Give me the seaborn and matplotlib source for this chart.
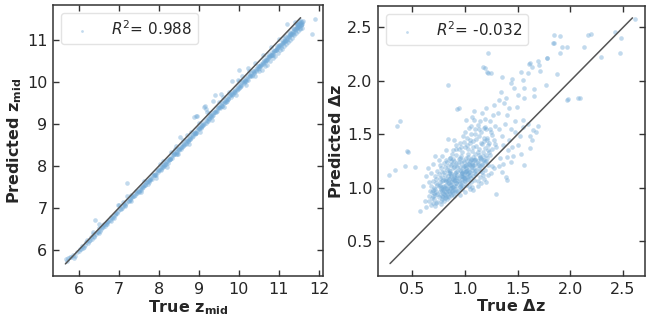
import matplotlib
matplotlib.use("Agg")
import matplotlib.pyplot as plt
import seaborn as sns
import pandas as pd

# ---------------- data: left panel (z_mid) ----------------
zmid_true = [
    5.68, 5.74, 5.80, 5.86, 5.92, 5.97, 6.03, 6.08, 6.13, 6.18,
    6.22, 6.27, 6.31, 6.35, 6.39, 6.42, 6.46, 6.50, 6.54, 6.58,
    6.62, 6.66, 6.70, 6.74, 6.78, 6.82, 6.86, 6.90, 6.94, 6.98,
    7.02, 7.06, 7.10, 7.13, 7.17, 7.20, 7.24, 7.28, 7.32, 7.36,
    7.40, 7.44, 7.48, 7.52, 7.56, 7.60, 7.63, 7.67, 7.71, 7.75,
    7.79, 7.83, 7.87, 7.91, 7.95, 7.99, 8.03, 8.07, 8.11, 8.15,
    8.19, 8.23, 8.27, 8.31, 8.35, 8.39, 8.43, 8.47, 8.51, 8.55,
    8.59, 8.63, 8.67, 8.71, 8.75, 8.79, 8.83, 8.87, 8.91, 8.95,
    8.99, 9.03, 9.07, 9.11, 9.15, 9.19, 9.23, 9.27, 9.31, 9.35,
    9.39, 9.43, 9.47, 9.51, 9.55, 9.59, 9.63, 9.67, 9.71, 9.75,
    9.79, 9.83, 9.87, 9.91, 9.95, 9.99, 10.03, 10.07, 10.11, 10.15,
    10.19, 10.23, 10.27, 10.31, 10.35, 10.39, 10.43, 10.47, 10.51, 10.55,
    10.59, 10.63, 10.67, 10.71, 10.75, 10.79, 10.83, 10.87, 10.91, 10.95,
    10.99, 11.03, 11.07, 11.11, 11.15, 11.19, 11.23, 11.27, 11.31, 11.35,
    11.38, 11.41, 11.44, 11.47, 11.50, 11.53, 11.56, 11.60, 11.82, 11.91,
    5.71, 5.78, 5.88, 6.00, 6.11, 6.24, 6.33, 6.44, 6.56, 6.68,
    6.80, 6.92, 7.04, 7.15, 7.26, 7.34, 7.42, 7.50, 7.58, 7.65,
    7.73, 7.81, 7.89, 7.97, 8.05, 8.13, 8.21, 8.29, 8.37, 8.45,
    8.53, 8.61, 8.69, 8.77, 8.85, 8.93, 9.01, 9.09, 9.17, 9.25,
    9.33, 9.41, 9.49, 9.57, 9.65, 9.73, 9.81, 9.89, 9.97, 10.05,
    10.13, 10.21, 10.29, 10.37, 10.45, 10.53, 10.61, 10.69, 10.77, 10.85,
    10.93, 11.01, 11.09, 11.17, 11.25, 11.33, 11.41, 11.45, 11.49, 11.55,
    7.30, 7.62, 8.02, 8.44, 8.88, 8.96, 9.20, 9.60, 10.00, 10.40,
    10.80, 11.00, 11.40, 11.52, 11.57, 11.58, 11.50, 11.46, 11.54, 11.43,
    9.52, 9.68, 9.84, 10.00, 10.16, 10.32, 10.48, 10.64, 10.80, 10.96,
    11.12, 11.28, 8.10, 8.26, 8.42, 8.58, 8.74, 8.90, 9.06, 9.22,
    7.50, 7.55, 7.61, 7.66, 7.72, 7.77, 7.84, 7.90, 7.94, 8.00,
    8.06, 8.12, 8.17, 8.22, 8.28, 8.33, 8.38, 8.46, 8.50, 8.56,
    8.62, 8.68, 8.72, 8.78, 8.84, 8.90, 8.94, 9.00, 9.05, 9.10,
    9.14, 9.21, 9.26, 9.30, 9.36, 9.42, 9.46, 9.53, 9.58, 9.62,
    9.70, 9.74, 9.80, 9.86, 9.90, 9.96, 10.02, 10.06, 10.12, 10.18,
    10.22, 10.28, 10.34, 10.38, 10.44, 10.50, 10.56, 10.60, 10.66, 10.72,
    10.76, 10.82, 10.88, 10.92, 10.98, 11.04, 11.10, 11.14, 11.20, 11.26,
    11.30, 11.36, 11.42, 11.48, 11.52, 11.56, 11.34, 11.44, 11.24, 11.12,
    9.41, 9.12, 8.70, 8.30, 9.84, 10.22, 10.60, 10.08, 9.98, 8.52,
    6.05, 6.16, 6.29, 6.38, 6.48, 6.60, 6.72, 6.84, 6.96, 7.08,
    7.19, 7.29, 7.38, 7.46, 6.36, 6.52, 6.98, 7.12, 7.22, 6.64,
    10.50, 10.58, 10.65, 10.70, 10.78, 10.84, 10.90, 10.97, 11.02, 11.08,
    11.13, 11.18, 11.22, 11.28, 11.32, 11.38, 11.43, 11.47, 11.52, 11.58,
    10.52, 10.68, 10.86, 11.05, 11.21, 11.36, 10.74, 10.94, 11.16, 11.46,
    8.10, 8.40, 8.60, 8.80, 9.00, 9.25, 9.50, 9.75, 10.00, 10.25,
    8.20, 8.48, 8.76, 9.04, 9.32, 9.62, 9.92, 10.18, 10.40, 7.92,
    7.30, 7.56, 7.76, 6.88, 6.70, 6.50, 9.18, 9.36, 9.55, 8.94,
]
zmid_pred = [
    5.78, 5.80, 5.84, 5.88, 5.86, 5.95, 6.02, 6.10, 6.08, 6.20,
    6.25, 6.22, 6.30, 6.38, 6.34, 6.72, 6.42, 6.52, 6.46, 6.55,
    6.60, 6.58, 6.68, 6.70, 6.72, 6.80, 6.78, 6.85, 6.88, 6.92,
    7.08, 6.98, 7.05, 7.10, 7.08, 7.60, 7.18, 7.22, 7.26, 7.30,
    7.32, 7.40, 7.40, 7.45, 7.50, 7.52, 7.55, 7.62, 7.62, 7.68,
    7.70, 7.78, 7.80, 7.82, 7.88, 7.90, 7.96, 7.98, 8.04, 8.06,
    8.10, 8.16, 8.18, 8.22, 8.26, 8.32, 8.34, 8.40, 8.42, 8.46,
    8.52, 8.54, 8.60, 8.62, 8.66, 8.70, 8.74, 8.80, 8.82, 8.86,
    8.90, 8.94, 8.98, 9.02, 9.44, 9.10, 9.14, 9.20, 9.22, 9.26,
    9.30, 9.34, 9.40, 9.42, 9.46, 9.50, 9.56, 9.58, 9.62, 9.68,
    9.70, 9.74, 9.80, 9.82, 9.86, 9.92, 9.94, 10.00, 10.02, 10.06,
    10.10, 10.14, 10.16, 10.22, 10.26, 10.28, 10.32, 10.38, 10.40, 10.44,
    10.48, 10.52, 10.54, 10.60, 10.62, 10.66, 10.72, 10.74, 10.78, 10.82,
    10.86, 10.90, 10.94, 10.98, 11.02, 11.40, 11.10, 11.14, 11.18, 11.22,
    11.26, 11.28, 11.32, 11.36, 11.40, 11.42, 11.44, 11.46, 11.16, 11.50,
    5.74, 5.84, 5.82, 5.98, 6.04, 6.18, 6.26, 6.38, 6.50, 6.62,
    6.70, 6.84, 6.98, 7.04, 7.16, 7.26, 7.36, 7.38, 7.48, 7.56,
    7.64, 7.72, 7.78, 7.86, 7.94, 8.02, 8.12, 8.18, 8.28, 8.34,
    8.44, 8.48, 8.56, 8.66, 8.72, 8.80, 8.92, 8.96, 9.04, 9.16,
    9.20, 9.28, 9.38, 9.44, 9.52, 9.60, 9.72, 9.76, 9.84, 9.92,
    10.00, 10.08, 10.18, 10.22, 10.34, 10.38, 10.46, 10.54, 10.62, 10.70,
    10.78, 10.88, 10.94, 11.00, 11.08, 11.16, 11.22, 11.30, 11.34, 11.38,
    7.32, 7.64, 8.06, 8.48, 9.18, 9.20, 9.30, 9.66, 10.30, 10.46,
    10.84, 11.04, 11.44, 11.48, 11.44, 11.40, 11.45, 11.42, 11.36, 11.38,
    9.38, 9.54, 9.70, 9.86, 10.02, 10.16, 10.32, 10.48, 10.64, 10.80,
    10.96, 11.12, 7.98, 8.14, 8.30, 8.46, 8.60, 8.76, 8.94, 9.08,
    7.42, 7.39, 7.50, 7.54, 7.58, 7.66, 7.70, 7.80, 7.78, 7.92,
    7.90, 8.00, 8.06, 8.08, 8.16, 8.20, 8.28, 8.30, 8.38, 8.42,
    8.50, 8.52, 8.60, 8.64, 8.70, 8.78, 8.80, 8.88, 8.90, 8.98,
    9.00, 9.08, 9.12, 9.18, 9.22, 9.30, 9.32, 9.40, 9.44, 9.50,
    9.56, 9.60, 9.66, 9.72, 9.78, 9.82, 9.88, 9.94, 9.98, 10.04,
    10.06, 10.14, 10.18, 10.24, 10.28, 10.34, 10.42, 10.44, 10.50, 10.58,
    10.60, 10.66, 10.74, 10.76, 10.84, 10.88, 10.96, 10.98, 11.06, 11.10,
    11.16, 11.20, 11.28, 11.32, 11.30, 11.36, 11.30, 11.40, 11.20, 11.06,
    9.70, 9.42, 8.74, 8.34, 10.04, 10.33, 10.64, 10.15, 10.05, 8.70,
    6.02, 6.12, 6.24, 6.30, 6.44, 6.54, 6.66, 6.76, 6.88, 7.00,
    7.12, 7.20, 7.30, 7.36, 6.44, 6.62, 7.08, 7.14, 7.28, 6.62,
    10.26, 10.30, 10.40, 10.42, 10.50, 10.58, 10.62, 10.70, 10.76, 10.80,
    10.86, 10.92, 10.96, 11.00, 11.06, 11.12, 11.18, 11.22, 11.26, 11.30,
    10.40, 10.52, 10.66, 10.84, 11.02, 11.16, 10.68, 10.86, 11.10, 11.32,
    8.12, 8.42, 8.62, 8.82, 9.02, 9.27, 9.52, 9.78, 10.02, 10.26,
    7.98, 8.28, 8.54, 8.82, 9.10, 9.40, 9.70, 9.94, 10.16, 7.72,
    7.16, 7.44, 7.62, 6.76, 6.62, 6.40, 9.36, 9.56, 9.72, 9.20,
]
zmid_line = [5.67, 11.54]
zmid_r2 = 0.988

# ---------------- data: right panel (Delta z) ----------------
dz_true = [
    1.22, 1.85, 2.17, 2.42, 2.48, 2.47, 2.29, 2.13, 1.97, 1.85,
    1.90, 1.78, 1.69, 1.61, 1.64, 1.60, 1.53, 1.71, 1.87, 1.77,
    1.66, 1.56, 1.55, 1.45, 1.44, 1.47, 1.35, 1.22, 1.25, 1.19,
    0.84, 0.94, 1.97, 2.07, 1.34, 1.39, 1.32, 1.28, 1.37, 1.42,
    1.49, 1.50, 1.56, 1.66, 1.20, 0.36, 0.38, 0.84, 1.69, 1.55,
    1.60, 1.65, 1.62, 1.48, 1.55, 1.01, 1.09, 1.12, 1.04, 1.19,
    0.45, 1.21, 1.17, 0.93, 0.28, 0.34, 0.43, 0.46, 0.53, 0.57,
    1.30, 1.39, 1.40, 1.44, 1.56, 1.62, 1.64, 1.67, 1.53, 1.40,
    2.61, 2.20, 1.90, 1.84, 1.92, 1.78, 1.70, 1.62, 2.09, 1.98,
    1.05, 1.10, 1.15, 1.08, 1.12, 1.18, 1.22, 1.25, 1.28, 1.30,
    1.02, 0.98, 0.95, 0.92, 1.00, 1.06, 1.14, 1.20, 1.24, 1.32,
    1.35, 1.38, 1.42, 1.45, 1.48, 1.27, 1.16, 1.09, 1.31, 1.40,
    0.88, 0.90, 0.86, 0.82, 0.96, 1.03, 1.10, 1.17, 1.23, 1.33,
    1.36, 1.26, 1.20, 1.14, 1.46, 1.50, 1.52, 1.44, 0.78, 0.75,
    1.07, 1.13, 1.19, 1.01, 0.94, 1.29, 1.36, 1.41, 1.21, 1.11,
    0.68, 0.70, 0.72, 0.74, 0.77, 0.80, 0.66, 0.83,
    0.66, 0.69, 0.72, 0.75, 0.78, 0.81, 0.84, 0.87, 0.90, 0.71,
    0.67, 0.70, 0.73, 0.76, 0.79, 0.82, 0.85, 0.88, 0.91, 0.94, 0.97,
    0.68, 0.71, 0.74, 0.77, 0.80, 0.83, 0.86, 0.89, 0.92, 0.95, 0.98, 1.01, 1.04, 1.07,
    0.70, 0.73, 0.76, 0.79, 0.82, 0.85, 0.88, 0.91, 0.94, 0.97, 1.00, 1.03, 1.06, 1.09, 1.12,
    0.72, 0.75, 0.78, 0.81, 0.84, 0.87, 0.90, 0.93, 0.96, 0.99, 1.02, 1.05, 1.08, 1.11, 1.14, 1.17,
    0.74, 0.77, 0.80, 0.83, 0.86, 0.89, 0.92, 0.95, 0.98, 1.01, 1.04, 1.07, 1.10, 1.13, 1.16, 1.19,
    0.76, 0.80, 0.84, 0.88, 0.92, 0.96, 1.00, 1.04, 1.08, 1.12, 1.16, 1.22,
    0.82, 0.86, 0.90, 0.94, 0.98, 1.02, 1.06, 1.10, 1.14, 1.18,
    1.08, 1.12, 1.15, 1.18, 1.22, 1.25, 1.05, 1.20, 1.28, 1.32, 1.00, 0.95, 0.92, 1.35,
    0.60, 0.63, 0.62, 0.65, 0.63, 0.68, 0.70, 0.72, 0.66,
    0.79, 0.85, 0.91, 0.97, 0.88, 0.81, 0.93, 0.99, 1.03, 0.87,
    0.76, 0.83, 0.89, 0.95, 1.01, 1.07, 0.78, 0.86, 0.92, 0.98,
    0.71, 0.74, 0.77, 0.79, 0.82, 0.84, 0.86, 0.88, 0.91, 0.93,
    0.95, 0.97, 0.99, 1.01, 1.03, 1.05, 1.07, 1.09, 1.11, 1.13,
    0.73, 0.76, 0.78, 0.81, 0.83, 0.85, 0.87, 0.89, 0.92, 0.94,
    0.69, 0.72, 0.75, 0.78, 0.80, 0.83, 0.86, 0.89, 0.92, 0.95,
    0.97, 1.00, 1.02, 1.05, 1.07, 1.10, 1.12, 1.15, 1.17, 1.19,
    0.77, 0.81, 0.85, 0.88, 0.91, 0.93, 0.96, 0.99, 1.02, 1.04,
    1.06, 1.09, 1.11, 1.14, 1.16, 1.19, 1.21, 1.24, 1.26, 1.29,
    0.79, 0.82, 0.84, 0.87, 0.90, 0.93, 0.96, 0.98, 1.00, 1.03,
    1.06, 1.08, 1.10, 1.13, 1.16, 1.18, 1.21, 1.23, 1.26, 1.15,
    0.70, 0.73, 0.76, 0.80, 0.82, 0.86, 0.88, 0.90, 0.94, 0.97,
    0.99, 1.01, 1.04, 1.07, 1.09, 1.12, 1.14, 1.17, 1.20, 1.22,
    0.85, 0.87, 0.90, 0.92, 0.95, 0.97, 1.00, 1.03, 1.05, 1.08,
    0.89, 0.92, 0.96, 0.99, 1.02, 1.06, 1.10, 1.13, 1.18, 1.24,
    0.78, 0.81, 0.84, 0.87, 0.90, 0.93, 0.96, 0.99, 1.02, 1.05,
]
dz_pred = [
    2.26, 2.43, 2.43, 2.46, 2.40, 2.26, 2.22, 2.32, 2.32, 2.35,
    2.26, 2.21, 2.19, 2.16, 2.13, 2.07, 2.08, 2.09, 2.06, 1.96,
    1.92, 1.93, 2.01, 2.02, 1.98, 1.93, 2.04, 2.07, 2.07, 2.12,
    1.96, 1.75, 1.82, 1.84, 1.90, 1.84, 1.82, 1.77, 1.79, 1.75,
    1.76, 1.87, 1.84, 1.86, 1.75, 1.58, 1.62, 1.46, 1.58, 1.63,
    1.60, 1.54, 1.48, 1.52, 1.57, 1.63, 1.63, 1.59, 1.56, 1.57,
    1.34, 2.08, 2.13, 1.74, 1.12, 1.17, 1.20, 1.33, 1.19, 0.78,
    0.94, 1.10, 1.07, 1.24, 1.21, 1.37, 1.45, 1.52, 1.32, 1.29,
    2.58, 2.44, 2.42, 2.35, 2.32, 2.21, 2.15, 2.17, 1.84, 1.83,
    1.45, 1.50, 1.42, 1.38, 1.33, 1.47, 1.40, 1.52, 1.45, 1.38,
    1.40, 1.48, 1.42, 1.36, 1.52, 1.58, 1.62, 1.55, 1.62, 1.55,
    1.48, 1.60, 1.45, 1.38, 1.62, 1.68, 1.70, 1.72, 1.70, 1.68,
    1.32, 1.45, 1.28, 1.35, 1.30, 1.32, 1.27, 1.30, 1.33, 1.28,
    1.22, 1.20, 1.25, 1.20, 1.30, 1.40, 1.48, 1.55, 1.30, 1.26,
    1.66, 1.55, 1.64, 1.28, 1.24, 1.58, 1.40, 1.35, 1.45, 1.46,
    0.84, 0.86, 0.83, 0.87, 0.85, 0.88, 0.88, 0.89,
    0.92, 0.90, 0.93, 0.91, 0.92, 0.90, 0.92, 0.93, 0.92, 0.95,
    0.97, 0.98, 0.96, 0.97, 0.95, 0.96, 0.97, 0.96, 0.97, 0.98, 0.99,
    1.02, 1.00, 1.03, 1.01, 1.02, 1.00, 1.03, 1.01, 1.02, 1.04, 1.02, 1.03, 1.02, 1.01,
    1.06, 1.08, 1.05, 1.07, 1.06, 1.08, 1.05, 1.07, 1.06, 1.08, 1.06, 1.08, 1.05, 1.07, 1.06,
    1.11, 1.13, 1.10, 1.12, 1.11, 1.13, 1.10, 1.12, 1.11, 1.13, 1.10, 1.12, 1.11, 1.13, 1.10, 1.12,
    1.16, 1.18, 1.15, 1.17, 1.16, 1.18, 1.15, 1.17, 1.16, 1.18, 1.15, 1.17, 1.16, 1.18, 1.15, 1.17,
    1.21, 1.23, 1.20, 1.22, 1.21, 1.23, 1.20, 1.22, 1.21, 1.23, 1.22, 1.21,
    1.26, 1.28, 1.25, 1.27, 1.26, 1.25, 1.27, 1.26, 1.28, 1.26,
    0.98, 1.02, 1.04, 1.08, 1.12, 1.14, 0.99, 1.05, 1.18, 1.20, 0.96, 0.93, 0.95, 1.15,
    1.02, 1.11, 0.88, 1.18, 0.82, 1.14, 1.22, 1.30, 1.05,
    0.99, 1.04, 1.09, 1.14, 0.97, 1.07, 1.19, 1.09, 1.14, 1.00,
    1.03, 0.94, 1.08, 1.02, 1.16, 1.21, 0.89, 1.14, 1.04, 1.10,
    0.89, 0.94, 0.99, 0.91, 1.03, 0.97, 1.09, 1.01, 1.14, 1.06,
    1.19, 1.11, 1.24, 1.16, 1.29, 1.21, 1.34, 1.26, 1.39, 1.31,
    1.04, 1.09, 1.15, 1.19, 1.24, 1.14, 1.21, 1.27, 1.31, 1.36,
    0.96, 0.99, 1.02, 1.06, 0.94, 0.99, 0.95, 0.98, 1.04, 1.01,
    1.05, 1.09, 1.13, 1.15, 1.19, 1.22, 1.25, 1.27, 1.33, 1.37,
    0.88, 0.93, 0.91, 0.94, 0.99, 0.97, 1.03, 1.06, 1.07, 1.11,
    1.09, 1.14, 1.17, 1.16, 1.21, 1.24, 1.28, 1.31, 1.36, 1.41,
    1.01, 1.08, 1.04, 1.11, 1.07, 1.16, 1.13, 1.19, 1.15, 1.22,
    1.26, 1.29, 1.32, 1.36, 1.41, 1.44, 1.47, 1.42, 1.49, 1.52,
    0.92, 0.86, 0.93, 0.97, 0.91, 1.00, 1.06, 1.02, 1.09, 1.14,
    1.10, 1.21, 1.18, 1.23, 1.18, 1.21, 1.29, 1.26, 1.31, 1.35,
    1.17, 1.25, 1.19, 1.23, 1.28, 1.33, 1.38, 1.36, 1.42, 1.44,
    1.35, 1.40, 1.38, 1.43, 1.47, 1.50, 1.55, 1.48, 1.56, 1.55,
    0.97, 1.00, 1.06, 1.03, 1.12, 1.10, 1.16, 1.20, 1.17, 1.25,
]
dz_line = [0.29, 2.59]
dz_r2 = -0.032

# ---------------- styling ----------------
sns.set_theme(style="ticks")
plt.rcParams["font.family"] = ["DejaVu Sans"]
point_color = "#6fa8d6"
line_color = "#555555"
spine_color = "#333333"
text_color = "#262626"

fig = plt.figure(figsize=(6.46, 3.21), dpi=100)
ax1 = fig.add_axes([0.082, 0.140, 0.418, 0.844])
ax2 = fig.add_axes([0.585, 0.140, 0.413, 0.841])

df1 = pd.DataFrame({"true": zmid_true, "pred": zmid_pred})
df2 = pd.DataFrame({"true": dz_true, "pred": dz_pred})
line1 = pd.DataFrame({"x": zmid_line, "y": zmid_line})
line2 = pd.DataFrame({"x": dz_line, "y": dz_line})

panels = [
    (ax1, df1, line1, zmid_r2, r"True $\mathbf{z_{mid}}$", r"Predicted $\mathbf{z_{mid}}$",
     (5.36, 12.1), (5.38, 11.84), [6, 7, 8, 9, 10, 11, 12], [6, 7, 8, 9, 10, 11]),
    (ax2, df2, line2, dz_r2, r"True $\mathbf{\Delta z}$", r"Predicted $\mathbf{\Delta z}$",
     (0.175, 2.706), (0.173, 2.70), [0.5, 1.0, 1.5, 2.0, 2.5], [0.5, 1.0, 1.5, 2.0, 2.5]),
]

for ax, df, ln, r2, xl, yl, xlim, ylim, xt, yt in panels:
    sns.scatterplot(data=df, x="true", y="pred", ax=ax, s=11, color=point_color,
                    alpha=0.42, linewidth=0, label=f"$R^2$= {r2:.3f}")
    sns.lineplot(data=ln, x="x", y="y", ax=ax, color=line_color, linewidth=1.1)
    ax.set_xlim(*xlim)
    ax.set_ylim(*ylim)
    ax.set_xticks(xt)
    ax.set_yticks(yt)
    ax.set_xlabel(xl, fontsize=11.5, fontweight="bold", labelpad=1, color=text_color)
    ax.set_ylabel(yl, fontsize=11.5, fontweight="bold", labelpad=2, color=text_color)
    ax.tick_params(direction="in", top=True, right=True, length=4.5, width=1,
                   labelsize=11.5, colors=spine_color, labelcolor=text_color, pad=4)
    for sp in ax.spines.values():
        sp.set_visible(True)
        sp.set_color(spine_color)
        sp.set_linewidth(1.1)
    leg = ax.legend(loc="upper left", fontsize=11, markerscale=0.6,
                    handletextpad=0.9, borderpad=0.4, frameon=True, fancybox=True)
    for t in leg.get_texts():
        t.set_color(text_color)
    leg.get_frame().set_edgecolor("#dddddd")

fig.savefig("out.png", dpi=100)
